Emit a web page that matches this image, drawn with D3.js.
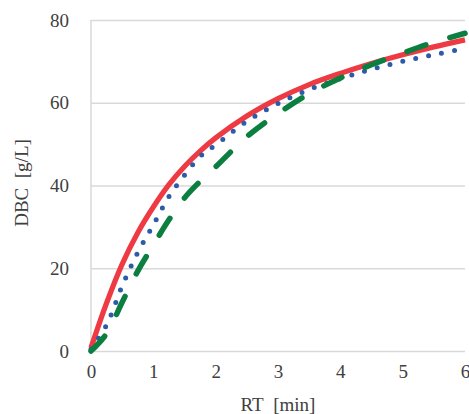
<!DOCTYPE html>
<html>
<head>
<meta charset="utf-8">
<script src="https://cdn.jsdelivr.net/npm/d3@7"></script>
<style>
  body { margin: 0; background: #fff; }
  svg text { font-family: "Liberation Serif", "DejaVu Serif", serif; fill: #404040; }
</style>
</head>
<body>
<svg id="chart" width="469" height="414"></svg>
<script>
// values
var rtMin = [0, 0.25, 0.5, 0.75, 1, 1.25, 1.5, 1.75, 2, 2.5, 3, 3.5, 4, 4.5, 5, 5.5, 6];
var dbcRed = [0.8, 11.6, 21.0, 28.6, 34.8, 40.2, 44.6, 48.3, 51.5, 56.8, 61.0, 64.4, 67.1, 69.5, 71.6, 73.5, 75.2];
var dbcBlue = [0.5, 6.3, 15.7, 23.8, 30.5, 37.3, 42.5, 47.0, 49.8, 55.5, 59.8, 63.2, 65.8, 68.1, 70.0, 71.6, 73.1];
var dbcGreen = [0, 4.2, 11.8, 19.3, 25.6, 31.7, 37, 41, 44.5, 51.8, 57.4, 62.2, 66.0, 69.2, 72.0, 74.6, 76.8];
var xTicks = [0, 1, 2, 3, 4, 5, 6];
var yTicks = [0, 20, 40, 60, 80];

var svg = d3.select('#chart');
var margin = { left: 91, right: 4, top: 20, bottom: 63 };
var width = 469 - margin.left - margin.right;
var height = 414 - margin.top - margin.bottom;

var x = d3.scaleLinear().domain([0, 6]).range([0, width]);
var y = d3.scaleLinear().domain([0, 80]).range([height, 0]);

var g = svg.append('g').attr('transform', 'translate(' + [margin.left, margin.top] + ')');

// horizontal grid
var yAxis = g.append('g').call(d3.axisLeft(y).tickValues(yTicks).tickFormat(d3.format('d')).tickSize(-width).tickPadding(22));
yAxis.select('.domain').remove();
yAxis.selectAll('.tick line').attr('stroke', '#d9d9d9').attr('stroke-width', 1.5);
yAxis.selectAll('.tick text').attr('font-size', 19).style('font-family', '"Liberation Serif", serif').attr('fill', '#404040');

var xAxis = g.append('g').attr('transform', 'translate(0,' + height + ')')
  .call(d3.axisBottom(x).tickValues(xTicks).tickFormat(d3.format('d')).tickSize(0).tickPadding(14));
xAxis.select('.domain').remove();
xAxis.selectAll('.tick text').attr('font-size', 19).style('font-family', '"Liberation Serif", serif').attr('fill', '#404040');

// left axis line
g.append('line').attr('x1', 0).attr('x2', 0).attr('y1', 0).attr('y2', height)
  .attr('stroke', '#d9d9d9').attr('stroke-width', 1.5);

var line = d3.line().curve(d3.curveCatmullRom)
  .x(function(d) { return x(d[0]); })
  .y(function(d) { return y(d[1]); });

function series(vals) {
  return rtMin.map(function(t, i) { return [t, vals[i]]; });
}

g.append('path').datum(series(dbcRed)).attr('d', line)
  .attr('fill', 'none').attr('stroke', '#ee3b43').attr('stroke-width', 5.2);

g.append('path').datum(series(dbcBlue)).attr('d', line)
  .attr('fill', 'none').attr('stroke', '#2c5ba8').attr('stroke-width', 5)
  .attr('stroke-linecap', 'round').attr('stroke-dasharray', '0 13.2');

g.append('path').datum(series(dbcGreen)).attr('d', line)
  .attr('fill', 'none').attr('stroke', '#0b7f40').attr('stroke-width', 5.5)
  .attr('stroke-linecap', 'round').attr('stroke-dasharray', '20 25');

// axis titles
svg.append('text').attr('x', 278).attr('y', 411).attr('text-anchor', 'middle')
  .attr('font-size', 19).text('RT\u00a0\u00a0[min]');

svg.append('text').attr('transform', 'translate(28,183) rotate(-90)').attr('text-anchor', 'middle')
  .attr('font-size', 19).text('DBC\u00a0\u00a0[g/L]');
</script>
</body>
</html>
